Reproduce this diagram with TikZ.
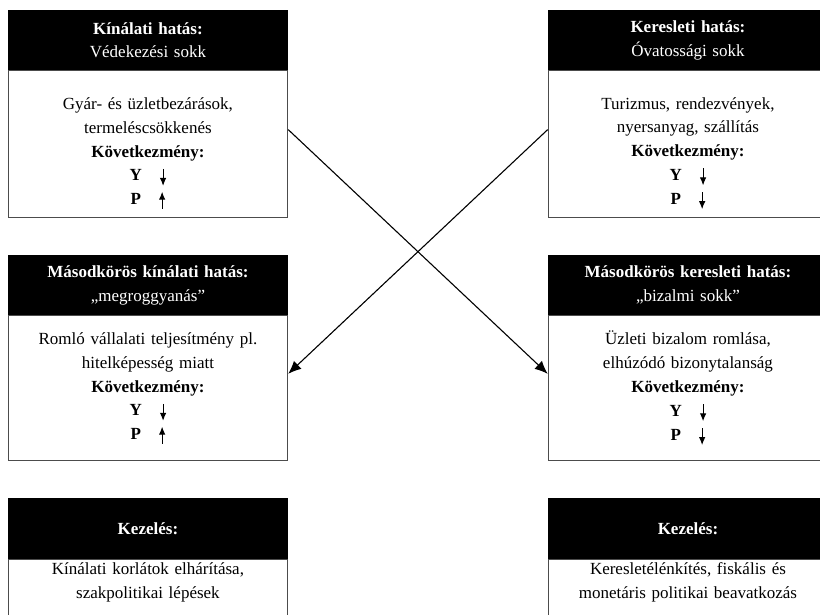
\documentclass[tikz,border=0pt]{standalone}
\usepackage{fontspec}
\setmainfont{Liberation Serif}
\usetikzlibrary{arrows.meta, positioning, calc}
\tikzset{
  >=Latex,
  head/.style={
    fill=black, text=white, draw=none, inner sep=0pt,
    minimum width=279.5pt, minimum height=#1, align=center, text width=275pt
  },
  head/.default=60pt,
  body/.style={
    draw=black!70, line width=1pt, fill=white, inner sep=0pt,
    minimum width=279.5pt, minimum height=#1, align=center, text width=275pt
  },
  body/.default=146pt,
  link/.style={-{Latex[length=13pt,width=11pt]}, line width=1.1pt}
}
\newcommand{\arrdown}{\tikz[baseline=0pt,x=1pt,y=1pt]\draw[line width=1.1pt,-{Latex[length=8pt,width=6.5pt]}] (0,12) -- (0,-5);}
\newcommand{\arrup}{\tikz[baseline=0pt,x=1pt,y=1pt]\draw[line width=1.1pt,-{Latex[length=8pt,width=6.5pt]}] (0,-4) -- (0,13);}

\begin{document}
\begin{tikzpicture}[x=1pt, y=-1pt, font=\fontsize{17}{23.8}\selectfont]
  \useasboundingbox (0,0) rectangle (820,615);
  \clip (0,0) rectangle (820,615);
  % first round shocks
  \node[head, anchor=north west] (headL1) at (8,10)
    {\textbf{Kínálati hatás:}\\Védekezési sokk};
  \node[body=147pt, below=0pt of headL1] (bodyL1)
    {\rule{0pt}{30pt}Gyár- és üzletbezárások,\\termeléscsökkenés\\\textbf{Következmény:}\\
     \textbf{Y}\hspace{18pt}\arrdown\\\textbf{P}\hspace{18pt}\arrup};
  \node[head, anchor=north west] (headR1) at (548,10)
    {\textbf{Keresleti hatás:}\\Óvatossági sokk};
  \node[body=147pt, below=0pt of headR1] (bodyR1)
    {\rule{0pt}{30pt}Turizmus, rendezvények,\\nyersanyag, szállítás\\\textbf{Következmény:}\\
     \textbf{Y}\hspace{18pt}\arrdown\\\textbf{P}\hspace{18pt}\arrdown};
  % second round
  \node[head, anchor=north west] (headL2) at (8,255)
    {\textbf{Másodkörös kínálati hatás:}\\„megroggyanás”};
  \node[body=145pt, below=0pt of headL2] (bodyL2)
    {Romló vállalati teljesítmény pl.\\hitelképesség miatt\\\textbf{Következmény:}\\
     \textbf{Y}\hspace{18pt}\arrdown\\\textbf{P}\hspace{18pt}\arrup};
  \node[head, anchor=north west] (headR2) at (548,255)
    {\textbf{Másodkörös keresleti hatás:}\\„bizalmi sokk”};
  \node[body=145pt, below=0pt of headR2] (bodyR2)
    {Üzleti bizalom romlása,\\elhúzódó bizonytalanság\\\textbf{Következmény:}\\
     \textbf{Y}\hspace{18pt}\arrdown\\\textbf{P}\hspace{18pt}\arrdown};
  % treatment
  \node[head=61pt, anchor=north west] (headL3) at (8,498) {\textbf{Kezelés:}};
  \node[body=120pt, below=0pt of headL3] (bodyL3) {};
  \node[anchor=north, align=center, text width=275pt, inner sep=0pt] (txtL3)
    at ([yshift=-3pt]bodyL3.north) {Kínálati korlátok elhárítása,\\szakpolitikai lépések};
  \node[head=61pt, anchor=north west] (headR3) at (548,498) {\textbf{Kezelés:}};
  \node[body=120pt, below=0pt of headR3] (bodyR3) {};
  \node[anchor=north, align=center, text width=275pt, inner sep=0pt] (txtR3)
    at ([yshift=-3pt]bodyR3.north) {Keresletélénkítés, fiskális és\\monetáris politikai beavatkozás};
  % crossing links
  \draw[link] ($(bodyL1.north east)!0.4!(bodyL1.south east)$) -- ($(bodyR2.north west)!0.4!(bodyR2.south west)$);
  \draw[link] ($(bodyR1.north west)!0.4!(bodyR1.south west)$) -- ($(bodyL2.north east)!0.4!(bodyL2.south east)$);
\end{tikzpicture}
\end{document}
